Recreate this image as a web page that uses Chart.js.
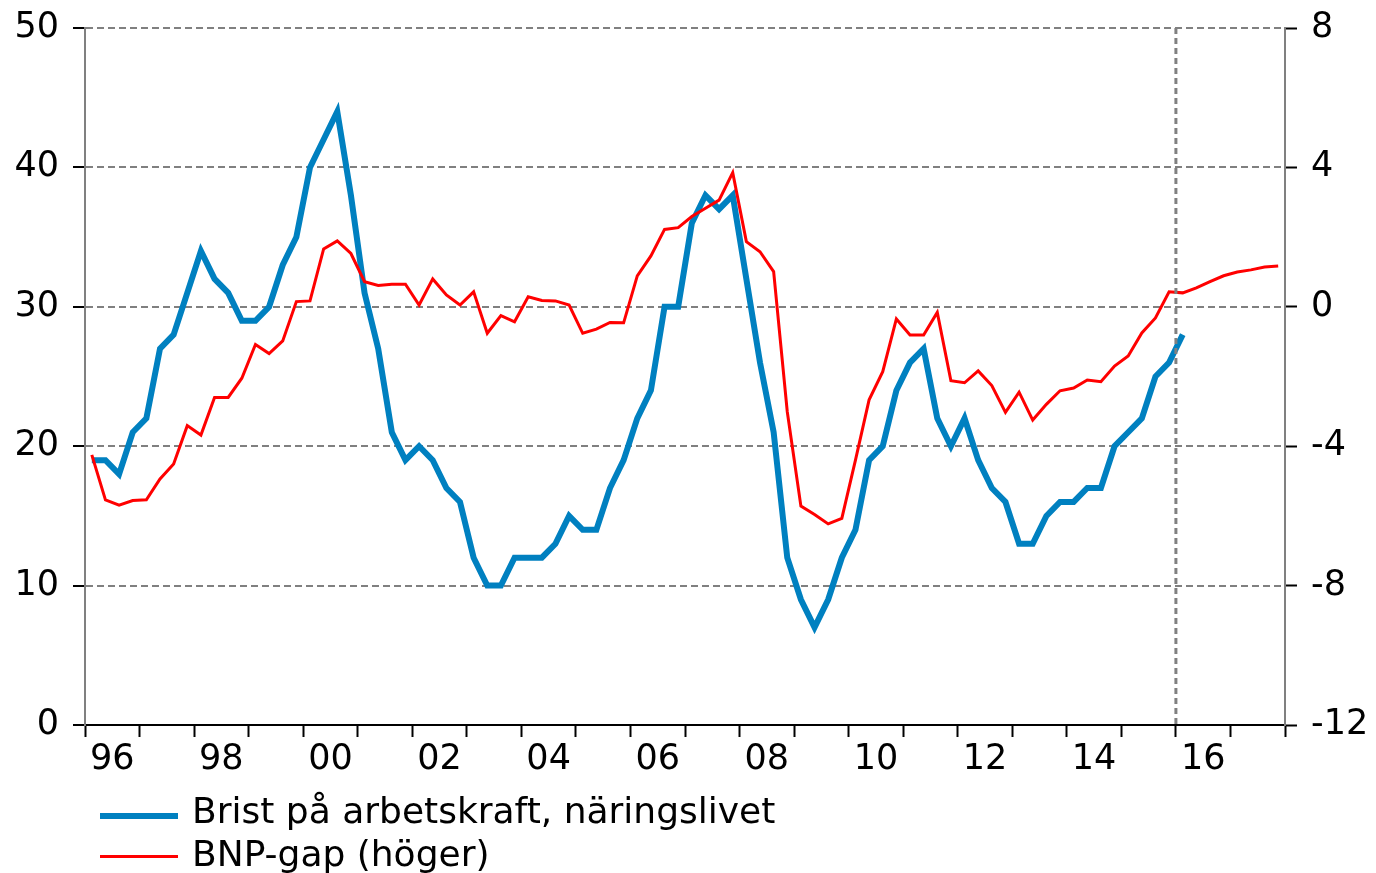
<!DOCTYPE html>
<html>
<head>
<meta charset="utf-8">
<script src="https://cdn.jsdelivr.net/npm/chart.js@4.4.1/dist/chart.umd.min.js"></script>
<style>
  html, body { margin: 0; padding: 0; background: #fff; }
  #wrap { position: relative; width: 1376px; height: 873px; }
  .legend { position: absolute; left: 100px; font: 36px 'DejaVu Sans', Verdana, sans-serif; color: #000; line-height: 43px; white-space: nowrap; }
  .legend span.line { position: absolute; left: 0; width: 78px; }
  .legend span.text { position: absolute; left: 92px; top: 0; }
</style>
</head>
<body>
<div id="wrap">
  <canvas id="chart"></canvas>
  <div class="legend" style="top:789px"><span class="line" style="top:24px;height:6px;background:#0080C0"></span><span class="text">Brist på arbetskraft, näringslivet</span></div>
  <div class="legend" style="top:832px"><span class="line" style="top:23px;height:3px;background:#FF0000"></span><span class="text">BNP-gap (höger)</span></div>
</div>
<script>
// kvartalsdata från 1996 K1
const startYear = 1996;
const quarterCount = 88; // 1996-2017
const forecastYear = 2016;

// Brist på arbetskraft, näringslivet (procent, vänster axel), 1996K1-2016K1
const laborShortage = [
  19, 19, 18, 21, 22, 27, 28, 31, 34, 32,
  31, 29, 29, 30, 33, 35, 40, 42, 44, 38,
  31, 27, 21, 19, 20, 19, 17, 16, 12, 10,
  10, 12, 12, 12, 13, 15, 14, 14, 17, 19,
  22, 24, 30, 30, 36, 38, 37, 38, 32, 26,
  21, 12, 9, 7, 9, 12, 14, 19, 20, 24,
  26, 27, 22, 20, 22, 19, 17, 16, 13, 13,
  15, 16, 16, 17, 17, 20, 21, 22, 25, 26,
  28
];

// BNP-gap (procent, höger axel), 1996K1-2017K4
const gdpGap = [
  -4.25, -5.54, -5.69, -5.56, -5.54, -4.94, -4.51, -3.41, -3.68, -2.6,
  -2.6, -2.05, -1.08, -1.34, -0.98, 0.15, 0.17, 1.66, 1.89, 1.53,
  0.72, 0.61, 0.65, 0.65, 0.05, 0.8, 0.34, 0.05, 0.43, -0.76,
  -0.25, -0.43, 0.29, 0.18, 0.17, 0.05, -0.76, -0.64, -0.45, -0.46,
  0.89, 1.46, 2.22, 2.27, 2.59, 2.83, 3.06, 3.85, 1.87, 1.58,
  1.01, -3.01, -5.72, -5.96, -6.23, -6.07, -4.4, -2.67, -1.86, -0.35,
  -0.81, -0.81, -0.16, -2.12, -2.18, -1.84, -2.26, -3.03, -2.45, -3.25,
  -2.8, -2.41, -2.33, -2.1, -2.15, -1.7, -1.41, -0.75, -0.32, 0.43,
  0.4, 0.54, 0.72, 0.89, 1.0, 1.06, 1.14, 1.17
];

const yearLabels = ['96', '98', '00', '02', '04', '06', '08', '10', '12', '14', '16'];

const GRID = '#808080';

// punkter i mitten av varje kvartal
function toPoints(values) {
  return values.map((v, i) => ({ x: i + 0.5, y: v }));
}

// fasta axelmått så att plotytan hamnar rätt
function fixWidth(w) {
  return (scale) => {
    scale.width = w;
    scale.paddingTop = 0;
    scale.paddingBottom = 0;
  };
}

// streckad linje vid prognosstart
const forecastLine = {
  id: 'forecastLine',
  afterDatasetsDraw(chart) {
    const { ctx, chartArea, scales } = chart;
    const x = scales.x.getPixelForValue((forecastYear - startYear) * 4);
    ctx.save();
    ctx.strokeStyle = GRID;
    ctx.lineWidth = 3;
    ctx.setLineDash([6, 4]);
    ctx.beginPath();
    ctx.moveTo(x, chartArea.top);
    ctx.lineTo(x, chartArea.bottom);
    ctx.stroke();
    ctx.restore();
  }
};

Chart.defaults.font.family = "'DejaVu Sans', Verdana, sans-serif";
Chart.defaults.font.size = 35;
Chart.defaults.color = '#000';

new Chart(document.getElementById('chart'), {
  type: 'line',
  data: {
    datasets: [
      {
        label: 'Brist på arbetskraft, näringslivet',
        data: toPoints(laborShortage),
        borderColor: '#0080C0',
        backgroundColor: '#0080C0',
        borderWidth: 6,
        yAxisID: 'y',
        order: 2,
      },
      {
        label: 'BNP-gap (höger)',
        data: toPoints(gdpGap),
        borderColor: '#FF0000',
        backgroundColor: '#FF0000',
        borderWidth: 3,
        yAxisID: 'y1',
        order: 1,
      },
    ],
  },
  options: {
    responsive: true,
    maintainAspectRatio: false,
    animation: false,
    layout: { padding: { top: 28, left: 0, right: 0, bottom: 0 } },
    elements: { point: { radius: 0 }, line: { tension: 0 } },
    plugins: {
      legend: { display: false },
      tooltip: { enabled: false },
    },
    scales: {
      x: {
        type: 'linear',
        min: 0,
        max: quarterCount,
        afterBuildTicks(scale) {
          const ticks = [];
          for (let v = 0; v <= quarterCount; v += 2) ticks.push({ value: v });
          scale.ticks = ticks;
        },
        afterFit(scale) {
          scale.height = 148;
          scale.paddingLeft = 0;
          scale.paddingRight = 0;
        },
        ticks: {
          autoSkip: false,
          maxRotation: 0,
          padding: 2,
          callback(value) {
            return value % 8 === 2 ? yearLabels[(value - 2) / 8] : '';
          },
        },
        grid: {
          drawOnChartArea: false,
          tickLength: 12,
          tickWidth: 2,
          tickColor: (ctx) => (ctx.tick && ctx.tick.value % 4 === 0 ? '#000' : 'rgba(0,0,0,0)'),
        },
        border: { color: '#000', width: 2 },
      },
      y: {
        position: 'left',
        min: 0,
        max: 50,
        afterFit: fixWidth(85),
        ticks: { stepSize: 10, padding: 14 },
        grid: {
          color: (ctx) => (ctx.tick && ctx.tick.value === 0 ? 'rgba(0,0,0,0)' : GRID),
          lineWidth: 2,
          tickLength: 12,
          tickWidth: 2,
          tickColor: '#000',
        },
        border: { color: GRID, width: 2, dash: [7, 4] },
      },
      y1: {
        position: 'right',
        min: -12,
        max: 8,
        afterFit: fixWidth(91),
        ticks: { stepSize: 4, padding: 14 },
        grid: {
          drawOnChartArea: false,
          tickLength: 12,
          tickWidth: 2,
          tickColor: '#000',
        },
        border: { color: GRID, width: 2 },
      },
    },
  },
  plugins: [forecastLine],
});
</script>
</body>
</html>
